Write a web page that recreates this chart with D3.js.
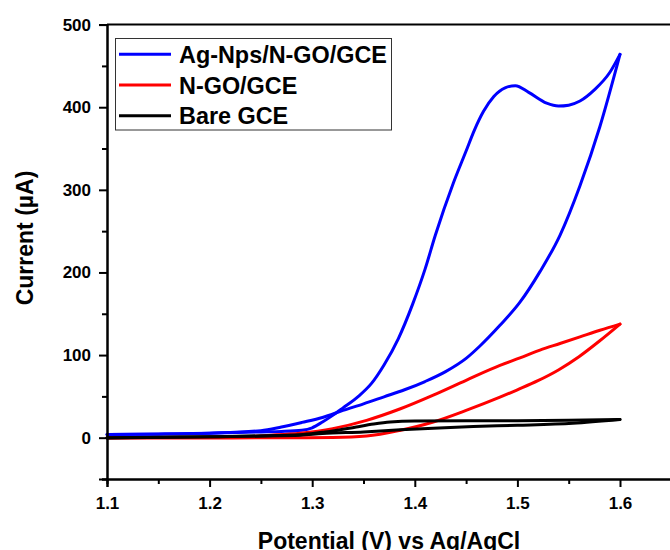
<!DOCTYPE html>
<html>
<head>
<meta charset="utf-8">
<script src="https://cdn.jsdelivr.net/npm/d3@7/dist/d3.min.js"></script>
<style>
  html, body { margin: 0; padding: 0; background: #fff; }
  svg { display: block; }
  text { font-family: "Liberation Sans", Arial, sans-serif; font-weight: bold; fill: #000; }
</style>
</head>
<body>
<svg id="chart" width="670" height="550"></svg>
<script>
// Cyclic voltammograms: each trace is stored as its anodic (upper-potential
// sweep) and cathodic branches, potential in V vs Ag/AgCl, current in µA.
const seriesNames = ["Ag-Nps/N-GO/GCE", "N-GO/GCE", "Bare GCE"];
const seriesColors = ["#0000ff", "#ff0000", "#000000"];

// Ag-Nps/N-GO/GCE
const agFwdE = [1.10, 1.15, 1.20, 1.25, 1.27, 1.29, 1.30, 1.31, 1.32, 1.33, 1.345, 1.358, 1.37, 1.384, 1.398, 1.41, 1.42, 1.4375, 1.45, 1.458, 1.467, 1.477, 1.488, 1.498, 1.511, 1.5285, 1.54, 1.55, 1.561, 1.575, 1.59, 1.60];
const agFwdI = [3.8, 4.5, 5.5, 7, 7.5, 9, 12, 19, 27, 36, 50, 66, 88, 120, 162, 204, 245, 308, 347, 372, 395, 413, 423.5, 426, 418, 405, 401.5, 402.5, 407.5, 421, 442, 464];
const agRevE = [1.10, 1.15, 1.20, 1.25, 1.27, 1.29, 1.31, 1.33, 1.35, 1.37, 1.39, 1.41, 1.43, 1.45, 1.4635, 1.483, 1.5025, 1.522, 1.5415, 1.561, 1.5805, 1.60];
const agRevI = [3.8, 4.3, 5.5, 8.5, 13, 18.5, 24.5, 33, 41, 49.5, 58, 68, 80, 96, 111, 136, 164, 201, 245, 305, 377, 464];

// N-GO/GCE
const ngoFwdE = [1.10, 1.20, 1.288, 1.32, 1.353, 1.386, 1.418, 1.45, 1.483, 1.50, 1.52, 1.54, 1.56, 1.58, 1.60];
const ngoFwdI = [-0.5, -0.3, 0, 0.3, 2, 9, 19, 33, 49, 58, 69, 82, 98, 117, 137.5];
const ngoRevE = [1.10, 1.20, 1.23, 1.26, 1.288, 1.32, 1.353, 1.386, 1.418, 1.45, 1.483, 1.5025, 1.522, 1.5415, 1.561, 1.5805, 1.60];
const ngoRevI = [0, 0.5, 1, 3, 5.5, 11, 21, 35, 51.5, 69.5, 87.5, 96.5, 106, 114, 122, 130, 137.5];

// Bare GCE
const bareFwdE = [1.10, 1.20, 1.25, 1.288, 1.31, 1.35, 1.386, 1.418, 1.457, 1.50, 1.554, 1.60];
const bareFwdI = [-0.5, 1, 2, 3, 5, 7, 9.5, 11.5, 13.5, 15, 17.5, 22];
const bareRevE = [1.10, 1.20, 1.25, 1.288, 1.31, 1.32, 1.343, 1.36, 1.376, 1.40, 1.45, 1.50, 1.55, 1.60];
const bareRevI = [0, 1, 2, 3.5, 6.5, 8, 13, 16.5, 19, 20.3, 20.5, 20.5, 21, 22];

const seriesBranches = [
  [[agFwdE, agFwdI], [agRevE, agRevI]],
  [[ngoFwdE, ngoFwdI], [ngoRevE, ngoRevI]],
  [[bareFwdE, bareFwdI], [bareRevE, bareRevI]]
];

// Axis ticks
const xMajorTicks = [1.1, 1.2, 1.3, 1.4, 1.5, 1.6];
const xMinorTicks = [1.15, 1.25, 1.35, 1.45, 1.55, 1.65];
const yMajorTicks = [0, 100, 200, 300, 400, 500];
const yMinorTicks = [-50, 50, 150, 250, 350, 450];

const svg = d3.select("#chart");

const x = d3.scaleLinear().domain([1.1, 1.65]).range([107, 671.3]);
const y = d3.scaleLinear().domain([-50, 500]).range([479, 24.6]);

// Frame: top and right edges of the plot box
svg.append("line")
  .attr("x1", x(1.1)).attr("x2", x(1.65))
  .attr("y1", y(500)).attr("y2", y(500))
  .attr("stroke", "#000").attr("stroke-width", 2);
svg.append("line")
  .attr("x1", x(1.65)).attr("x2", x(1.65))
  .attr("y1", y(500)).attr("y2", y(-50))
  .attr("stroke", "#000").attr("stroke-width", 2);

// Curves
const line = d3.line()
  .x(d => x(d[0]))
  .y(d => y(d[1]))
  .curve(d3.curveMonotoneX);

seriesBranches.forEach((branches, s) => {
  branches.forEach(([es, is]) => {
    const pts = es.map((e, k) => [e, is[k]]);
    svg.append("path")
      .datum(pts)
      .attr("d", line)
      .attr("fill", "none")
      .attr("stroke", seriesColors[s])
      .attr("stroke-width", 3)
      .attr("stroke-linejoin", "round")
      .attr("stroke-linecap", "round");
  });
});

// Y axis
const yAxisMinor = svg.append("g")
  .attr("transform", `translate(${x(1.1)},0)`)
  .call(d3.axisLeft(y).tickValues(yMinorTicks).tickSize(5).tickFormat(""));
const yAxis = svg.append("g")
  .attr("transform", `translate(${x(1.1)},0)`)
  .call(d3.axisLeft(y).tickValues(yMajorTicks).tickSize(8).tickPadding(8).tickFormat(d3.format("d")));

// X axis
const xAxisMinor = svg.append("g")
  .attr("transform", `translate(0,${y(-50)})`)
  .call(d3.axisBottom(x).tickValues(xMinorTicks).tickSize(5).tickFormat(""));
const xAxis = svg.append("g")
  .attr("transform", `translate(0,${y(-50)})`)
  .call(d3.axisBottom(x).tickValues(xMajorTicks).tickSize(8).tickFormat(d3.format(".1f")));

[yAxisMinor, yAxis, xAxisMinor, xAxis].forEach(g => {
  g.select(".domain").attr("stroke", "#000").attr("stroke-width", 2);
  g.selectAll(".tick line").attr("stroke", "#000").attr("stroke-width", 2);
  g.selectAll(".tick text")
    .style("font-family", "'Liberation Sans', Arial, sans-serif")
    .style("font-weight", "bold")
    .style("font-size", "17px")
    .attr("fill", "#000");
});
xAxis.selectAll(".tick text").attr("y", 30).attr("dy", "0");

// Axis titles
svg.append("text")
  .attr("x", 389).attr("y", 548.5)
  .attr("text-anchor", "middle")
  .style("font-size", "23px")
  .text("Potential (V) vs Ag/AgCl");

svg.append("text")
  .attr("transform", "translate(33,238) rotate(-90)")
  .attr("text-anchor", "middle")
  .style("font-size", "23px")
  .text("Current (µA)");

// Legend
const legend = svg.append("g");
legend.append("rect")
  .attr("x", 115.5).attr("y", 38.5)
  .attr("width", 276).attr("height", 91.5)
  .attr("fill", "#fff")
  .attr("stroke", "#333").attr("stroke-width", 1);

seriesNames.forEach((name, s) => {
  const ly = 54.3 + s * 30.7;
  legend.append("line")
    .attr("x1", 119).attr("x2", 171)
    .attr("y1", ly).attr("y2", ly)
    .attr("stroke", seriesColors[s]).attr("stroke-width", 3);
  legend.append("text")
    .attr("x", 179).attr("y", ly + 8.5)
    .style("font-size", "23.4px")
    .text(name);
});
</script>
</body>
</html>
